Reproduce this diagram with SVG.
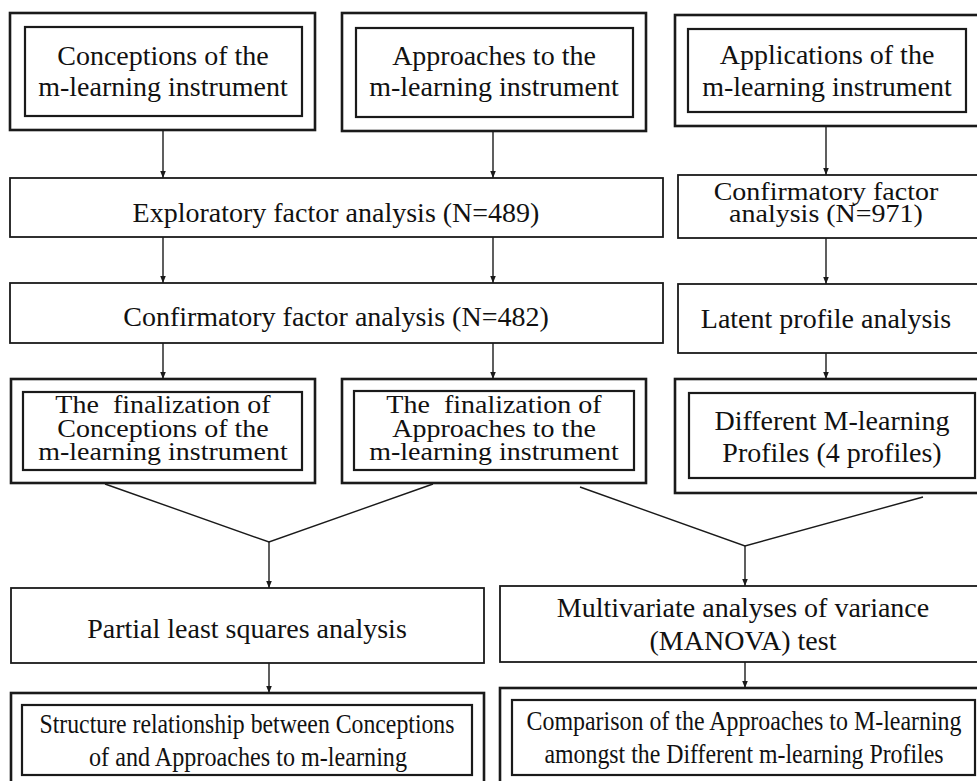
<svg xmlns="http://www.w3.org/2000/svg" width="977" height="781" viewBox="0 0 977 781">
<defs>
<style>
.o{fill:none;stroke:#1a1a1a;stroke-width:2.6}
.i{fill:none;stroke:#1a1a1a;stroke-width:2.2}
.s{fill:none;stroke:#1a1a1a;stroke-width:1.8}
.c{fill:none;stroke:#1a1a1a;stroke-width:1.4}
text{font-family:"Liberation Serif","Times New Roman",serif;font-size:28px;fill:#111;text-anchor:middle}
.t{font-size:27px}
</style>
<marker id="ah" viewBox="0 0 10 10" refX="10" refY="5" markerWidth="7" markerHeight="7" orient="auto" markerUnits="userSpaceOnUse">
<path d="M0,1 L10,5 L0,9 Z" fill="#1a1a1a"/>
</marker>
</defs>
<rect width="977" height="781" fill="#fff"/>

<g id="n1">
<rect class="o" x="10" y="13" width="305" height="117"/>
<rect class="i" x="25" y="27" width="277" height="89"/>
<text x="163" y="65">Conceptions of the</text>
<text x="163" y="96">m-learning instrument</text>
</g>
<g id="n2">
<rect class="o" x="342" y="13" width="304" height="118"/>
<rect class="i" x="356" y="28" width="277" height="89"/>
<text x="494" y="65">Approaches to the</text>
<text x="494" y="96">m-learning instrument</text>
</g>
<g id="n3">
<rect class="o" x="675" y="15" width="310" height="111"/>
<rect class="i" x="688" y="29" width="278" height="83"/>
<text x="827" y="64">Applications of the</text>
<text x="827" y="96">m-learning instrument</text>
</g>
<g id="n4">
<rect class="s" x="10" y="178" width="653" height="59"/>
<text x="336" y="222">Exploratory factor analysis (N=489)</text>
</g>
<g id="n5">
<rect class="s" x="678" y="175" width="307" height="63"/>
<text transform="translate(826,200) scale(1,0.9)">Confirmatory factor</text>
<text transform="translate(826,222) scale(1,0.9)">analysis (N=971)</text>
</g>
<g id="n6">
<rect class="s" x="10" y="283" width="653" height="60"/>
<text x="336" y="326">Confirmatory factor analysis (N=482)</text>
</g>
<g id="n7">
<rect class="s" x="678" y="284" width="307" height="69"/>
<text x="826" y="328">Latent profile analysis</text>
</g>
<g id="n8">
<rect class="o" x="11" y="379" width="304" height="104"/>
<rect class="i" x="23" y="392" width="279" height="78"/>
<text transform="translate(163,413) scale(1,0.9)">The&#160; finalization of</text>
<text transform="translate(163,437) scale(1,0.9)">Conceptions of the</text>
<text transform="translate(163,460) scale(1,0.9)">m-learning instrument</text>
</g>
<g id="n9">
<rect class="o" x="342" y="379" width="304" height="104"/>
<rect class="i" x="354" y="391" width="280" height="79"/>
<text transform="translate(494,413) scale(1,0.9)">The&#160; finalization of</text>
<text transform="translate(494,437) scale(1,0.9)">Approaches to the</text>
<text transform="translate(494,460) scale(1,0.9)">m-learning instrument</text>
</g>
<g id="n10">
<rect class="o" x="675" y="379" width="310" height="114"/>
<rect class="i" x="689" y="393" width="286" height="85"/>
<text x="832" y="430">Different M-learning</text>
<text x="832" y="462">Profiles (4 profiles)</text>
</g>
<g id="n11">
<rect class="s" x="11" y="588" width="473" height="75"/>
<text x="247" y="638">Partial least squares analysis</text>
</g>
<g id="n12">
<rect class="s" x="500" y="586" width="485" height="76"/>
<text x="743" y="617">Multivariate analyses of variance</text>
<text x="743" y="650">(MANOVA) test</text>
</g>
<g id="n13">
<rect class="o" x="11" y="693" width="473" height="100"/>
<rect class="i" x="22" y="705" width="450" height="70"/>
<text class="t" x="247" y="733" textLength="415" lengthAdjust="spacingAndGlyphs">Structure relationship between Conceptions</text>
<text class="t" x="248" y="766" textLength="318" lengthAdjust="spacingAndGlyphs">of and Approaches to m-learning</text>
</g>
<g id="n14">
<rect class="o" x="500" y="688" width="485" height="105"/>
<rect class="i" x="512" y="700" width="463" height="75"/>
<text class="t" x="744" y="730" textLength="435" lengthAdjust="spacingAndGlyphs">Comparison of the Approaches to M-learning</text>
<text class="t" x="744" y="763" textLength="399" lengthAdjust="spacingAndGlyphs">amongst the Different m-learning Profiles</text>
</g>

<g id="connectors">
<line class="c" x1="163" y1="131" x2="163" y2="178" marker-end="url(#ah)"/>
<line class="c" x1="493" y1="132" x2="493" y2="178" marker-end="url(#ah)"/>
<line class="c" x1="826" y1="127" x2="826" y2="175" marker-end="url(#ah)"/>
<line class="c" x1="163" y1="237" x2="163" y2="283" marker-end="url(#ah)"/>
<line class="c" x1="493" y1="237" x2="493" y2="283" marker-end="url(#ah)"/>
<line class="c" x1="826" y1="238" x2="826" y2="284" marker-end="url(#ah)"/>
<line class="c" x1="163" y1="343" x2="163" y2="379" marker-end="url(#ah)"/>
<line class="c" x1="493" y1="343" x2="493" y2="379" marker-end="url(#ah)"/>
<line class="c" x1="826" y1="353" x2="826" y2="379" marker-end="url(#ah)"/>
<polyline class="c" points="105,484 269,542 433,484"/>
<line class="c" x1="269" y1="542" x2="269" y2="588" marker-end="url(#ah)"/>
<polyline class="c" points="580,487 745,546 923,497"/>
<line class="c" x1="745" y1="546" x2="745" y2="586" marker-end="url(#ah)"/>
<line class="c" x1="269" y1="663" x2="269" y2="693" marker-end="url(#ah)"/>
<line class="c" x1="745" y1="662" x2="745" y2="688" marker-end="url(#ah)"/>
</g>
</svg>
